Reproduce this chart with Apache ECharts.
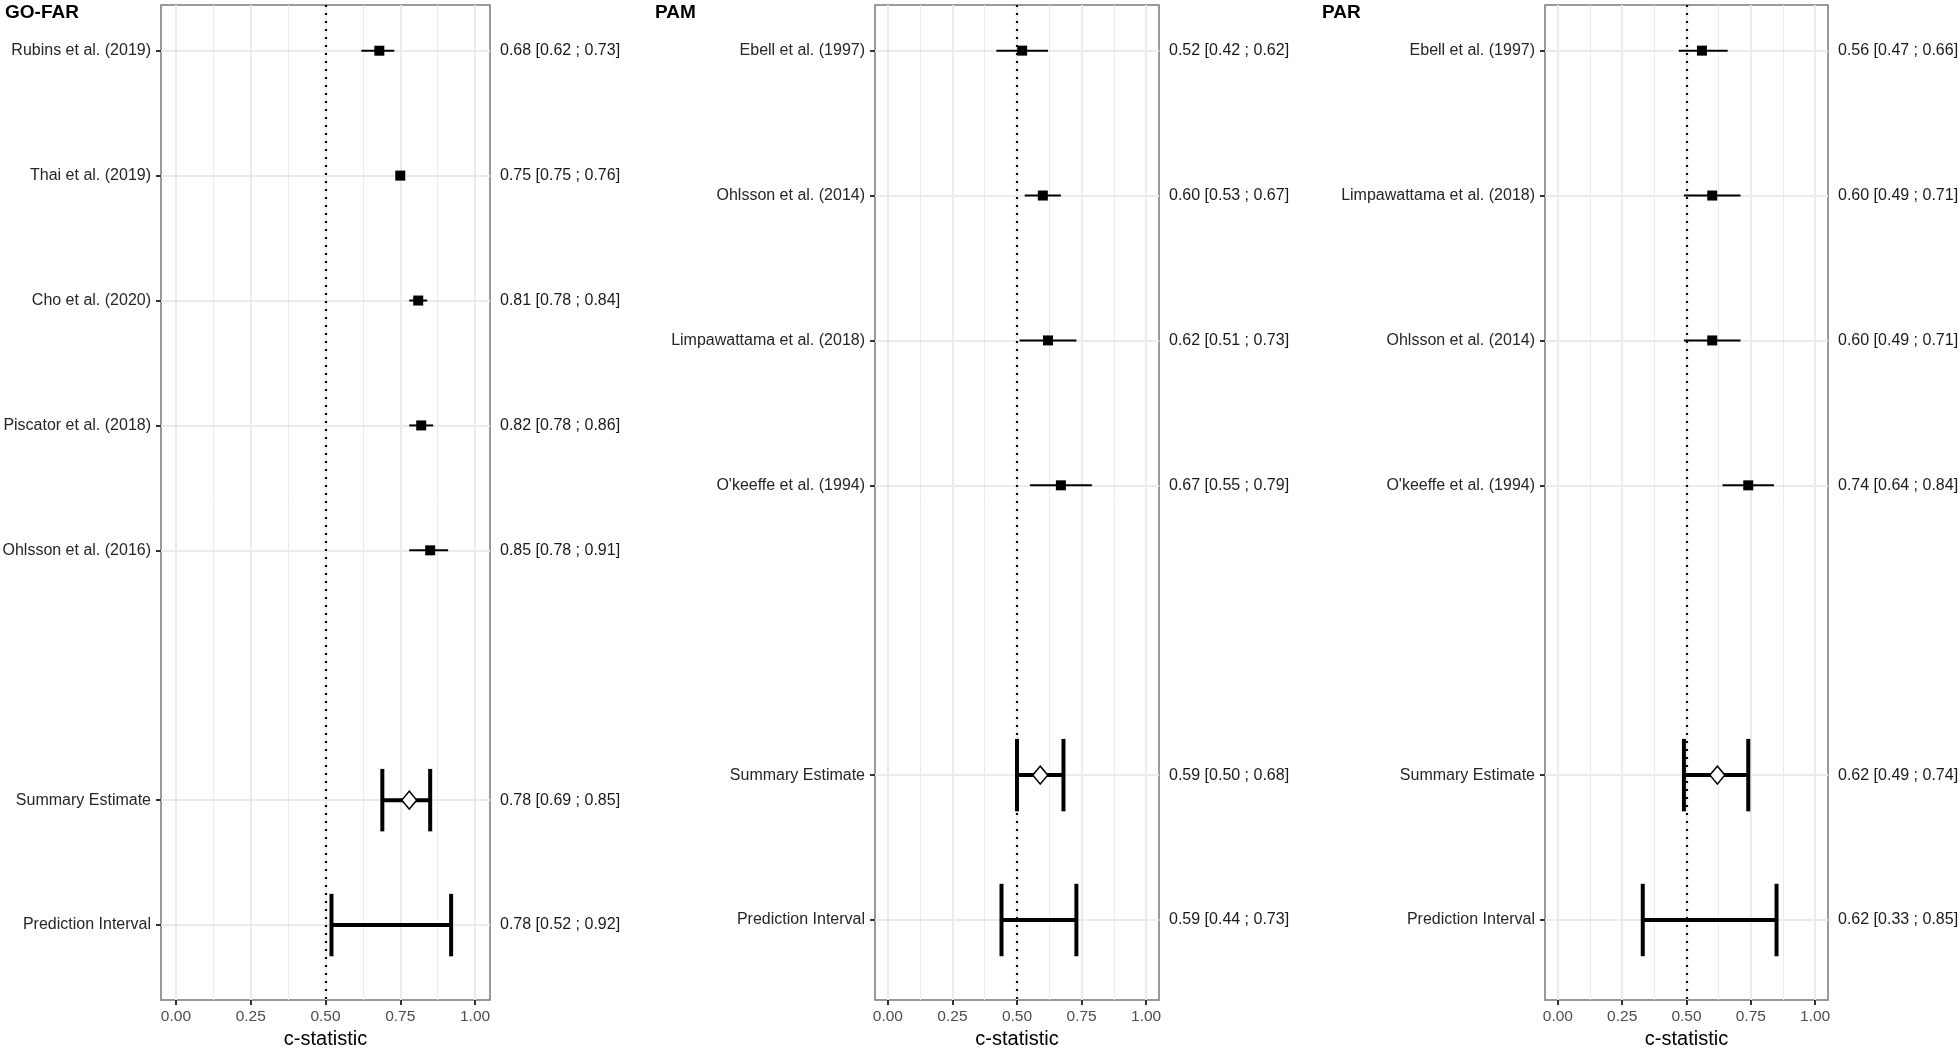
<!DOCTYPE html>
<html>
<head>
<meta charset="utf-8">
<script src="https://cdn.jsdelivr.net/npm/echarts@6/dist/echarts.min.js"></script>
<style>
html,body{margin:0;padding:0;background:#ffffff;}
#chart{width:1960px;height:1048px;}
</style>
</head>
<body>
<div id="chart"></div>
<script>
// ---------------- DATA ----------------
// GO-FAR
const goFarStudies = ['Rubins et al. (2019)', 'Thai et al. (2019)', 'Cho et al. (2020)', 'Piscator et al. (2018)', 'Ohlsson et al. (2016)'];
const goFarEst   = [0.68, 0.75, 0.81, 0.82, 0.85];
const goFarLower = [0.62, 0.75, 0.78, 0.78, 0.78];
const goFarUpper = [0.73, 0.76, 0.84, 0.86, 0.91];
const goFarSummary    = [0.78, 0.69, 0.85]; // estimate, lower, upper
const goFarPrediction = [0.78, 0.52, 0.92];

// PAM
const pamStudies = ['Ebell et al. (1997)', 'Ohlsson et al. (2014)', 'Limpawattama et al. (2018)', "O'keeffe et al. (1994)"];
const pamEst   = [0.52, 0.60, 0.62, 0.67];
const pamLower = [0.42, 0.53, 0.51, 0.55];
const pamUpper = [0.62, 0.67, 0.73, 0.79];
const pamSummary    = [0.59, 0.50, 0.68];
const pamPrediction = [0.59, 0.44, 0.73];

// PAR
const parStudies = ['Ebell et al. (1997)', 'Limpawattama et al. (2018)', 'Ohlsson et al. (2014)', "O'keeffe et al. (1994)"];
const parEst   = [0.56, 0.60, 0.60, 0.74];
const parLower = [0.47, 0.49, 0.49, 0.64];
const parUpper = [0.66, 0.71, 0.71, 0.84];
const parSummary    = [0.62, 0.49, 0.74];
const parPrediction = [0.62, 0.33, 0.85];

const panelTitles = ['GO-FAR', 'PAM', 'PAR'];
const summaryLabel = 'Summary Estimate';
const predictionLabel = 'Prediction Interval';
const xTicks = [0, 0.25, 0.5, 0.75, 1];
const xMinorTicks = [0.125, 0.375, 0.625, 0.875];
const xAxisTitle = 'c-statistic';
const referenceValue = 0.5;

// ---------------- LAYOUT / STYLE ----------------
const FONT = "'Liberation Sans', Arial, Helvetica, sans-serif";
const layout = [
  { left: 161,  width: 329, yMin: 0.634, yMax: 8.6,   titleLeft: 5 },
  { left: 875,  width: 284, yMin: 0.685, yMax: 7.552, titleLeft: 655 },
  { left: 1545, width: 283, yMin: 0.685, yMax: 7.552, titleLeft: 1322 }
];
const GRID_TOP = 5, GRID_HEIGHT = 995;

const panels = [
  { studies: goFarStudies, est: goFarEst, lo: goFarLower, hi: goFarUpper, sum: goFarSummary, pred: goFarPrediction },
  { studies: pamStudies,   est: pamEst,   lo: pamLower,   hi: pamUpper,   sum: pamSummary,   pred: pamPrediction },
  { studies: parStudies,   est: parEst,   lo: parLower,   hi: parUpper,   sum: parSummary,   pred: parPrediction }
];

function fmtCI(e, l, h) {
  return e.toFixed(2) + ' [' + l.toFixed(2) + ' ; ' + h.toFixed(2) + ']';
}

function ciRenderer(lineWidth, capHalf) {
  return function (params, api) {
    const lo = api.value(0), hi = api.value(1), y = api.value(2);
    const a = api.coord([lo, y]), b = api.coord([hi, y]);
    const style = { stroke: '#000000', lineWidth: lineWidth, lineCap: 'butt' };
    const children = [{ type: 'line', shape: { x1: a[0], y1: a[1], x2: b[0], y2: b[1] }, style: style }];
    if (capHalf > 0) {
      const l1 = api.coord([lo, y - capHalf]), l2 = api.coord([lo, y + capHalf]);
      const r1 = api.coord([hi, y - capHalf]), r2 = api.coord([hi, y + capHalf]);
      children.push({ type: 'line', shape: { x1: l1[0], y1: l1[1], x2: l2[0], y2: l2[1] }, style: style });
      children.push({ type: 'line', shape: { x1: r1[0], y1: r1[1], x2: r2[0], y2: r2[1] }, style: style });
    }
    return { type: 'group', children: children };
  };
}

const option = {
  backgroundColor: '#ffffff',
  animation: false,
  title: [], grid: [], xAxis: [], yAxis: [], series: []
};

panels.forEach(function (p, i) {
  const L = layout[i];
  const n = p.studies.length;
  const rowPos = [];
  const labelMap = {}, annMap = {};
  p.studies.forEach(function (s, k) {
    rowPos.push(k + 1);
    labelMap[k + 1] = s;
    annMap[k + 1] = fmtCI(p.est[k], p.lo[k], p.hi[k]);
  });
  const sumPos = n + 2, predPos = n + 3;
  rowPos.push(sumPos, predPos);
  labelMap[sumPos] = summaryLabel;
  labelMap[predPos] = predictionLabel;
  annMap[sumPos] = fmtCI(p.sum[0], p.sum[1], p.sum[2]);
  annMap[predPos] = fmtCI(p.pred[0], p.pred[1], p.pred[2]);

  option.title.push({
    text: panelTitles[i], left: L.titleLeft, top: 3, padding: 0,
    textStyle: { fontFamily: FONT, fontWeight: 'bold', fontSize: 19, color: '#000000' }
  });

  option.grid.push({
    left: L.left, top: GRID_TOP, width: L.width, height: GRID_HEIGHT,
    containLabel: false, outerBoundsMode: 'none',
    show: true, borderColor: '#7a7a7a', borderWidth: 1.5, backgroundColor: 'transparent'
  });

  // main x axis
  option.xAxis.push({
    type: 'value', gridIndex: i, min: -0.05, max: 1.05, position: 'bottom',
    name: xAxisTitle, nameLocation: 'middle', nameGap: 26,
    nameTextStyle: { fontFamily: FONT, fontSize: 20, color: '#000000' },
    axisLine: { show: false, onZero: false },
    axisTick: { show: true, customValues: xTicks, length: 5, lineStyle: { color: '#333333', width: 2 } },
    axisLabel: { show: true, customValues: xTicks, margin: 9, fontFamily: FONT, fontSize: 15.5, color: '#4d4d4d',
                 formatter: function (v) { return v.toFixed(2); } },
    splitLine: { show: true, lineStyle: { color: '#ebebeb', width: 2 } }
  });
  // minor grid x axis
  option.xAxis.push({
    type: 'value', gridIndex: i, min: -0.05, max: 1.05, position: 'top',
    axisLine: { show: false, onZero: false },
    axisTick: { show: false, customValues: xMinorTicks },
    axisLabel: { show: false, customValues: xMinorTicks },
    splitLine: { show: true, lineStyle: { color: '#ebebeb', width: 1 } }
  });

  // left y axis: labels
  option.yAxis.push({
    type: 'value', gridIndex: i, inverse: true, min: L.yMin, max: L.yMax, position: 'left',
    axisLine: { show: false, onZero: false },
    axisTick: { show: true, customValues: rowPos, length: 5, lineStyle: { color: '#333333', width: 2 } },
    axisLabel: { show: true, customValues: rowPos, margin: 10, fontFamily: FONT, fontSize: 16, color: '#262626',
                 formatter: function (v) { return labelMap[Math.round(v)] || ''; } },
    splitLine: { show: true, lineStyle: { color: '#ebebeb', width: 2 } }
  });
  // right y axis: annotations
  option.yAxis.push({
    type: 'value', gridIndex: i, inverse: true, min: L.yMin, max: L.yMax, position: 'right',
    axisLine: { show: false, onZero: false },
    axisTick: { show: false, customValues: rowPos },
    axisLabel: { show: true, customValues: rowPos, margin: 10, fontFamily: FONT, fontSize: 16, color: '#1a1a1a',
                 formatter: function (v) { return annMap[Math.round(v)] || ''; } },
    splitLine: { show: false }
  });

  const xi = i * 2, yi = i * 2;

  // study confidence intervals (thin, no caps) + reference line
  option.series.push({
    type: 'custom', xAxisIndex: xi, yAxisIndex: yi, z: 3,
    renderItem: ciRenderer(2, 0),
    encode: { x: [0, 1], y: 2 },
    data: p.studies.map(function (s, k) { return [p.lo[k], p.hi[k], k + 1]; }),
    markLine: {
      silent: true, symbol: 'none', label: { show: false }, z: 2,
      lineStyle: { color: '#000000', width: 2.2, type: [2, 6], cap: 'butt' },
      data: [{ xAxis: referenceValue }]
    }
  });
  // study point estimates (squares)
  option.series.push({
    type: 'scatter', xAxisIndex: xi, yAxisIndex: yi, z: 4,
    symbol: 'rect', symbolSize: 10,
    itemStyle: { color: '#000000', opacity: 1 },
    data: p.est.map(function (v, k) { return [v, k + 1]; })
  });
  // summary + prediction intervals (thick with caps)
  option.series.push({
    type: 'custom', xAxisIndex: xi, yAxisIndex: yi, z: 3,
    renderItem: ciRenderer(4, 0.25),
    encode: { x: [0, 1], y: 2 },
    data: [[p.sum[1], p.sum[2], sumPos], [p.pred[1], p.pred[2], predPos]]
  });
  // summary estimate (open diamond)
  option.series.push({
    type: 'scatter', xAxisIndex: xi, yAxisIndex: yi, z: 5,
    symbol: 'diamond', symbolSize: [15, 18],
    itemStyle: { color: '#ffffff', borderColor: '#000000', borderWidth: 1.5, opacity: 1 },
    data: [[p.sum[0], sumPos]]
  });
});

const chart = echarts.init(document.getElementById('chart'), null, { renderer: 'canvas' });
chart.setOption(option);
</script>
</body>
</html>
